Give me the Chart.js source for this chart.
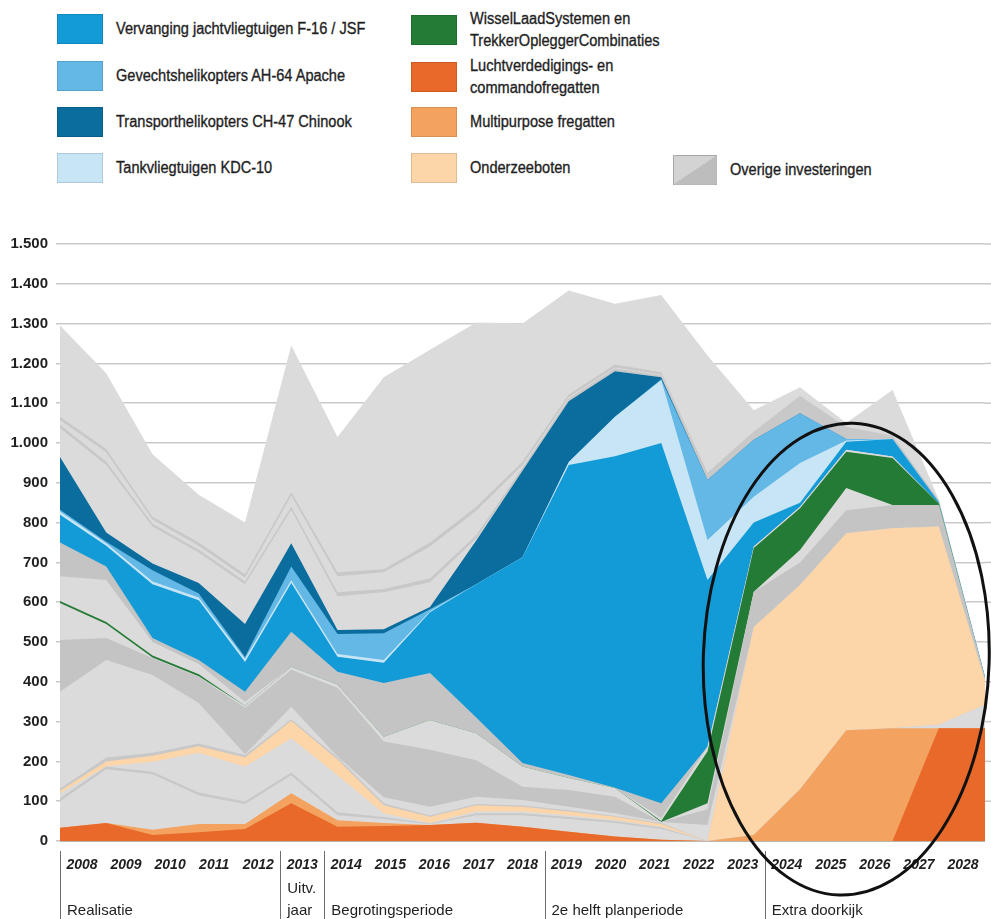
<!DOCTYPE html>
<html>
<head>
<meta charset="utf-8">
<script src="https://cdn.jsdelivr.net/npm/chart.js@4.4.0/dist/chart.umd.min.js"></script>
<style>
  html, body { margin: 0; padding: 0; background: #fff; }
  body {
    width: 991px; height: 919px; position: relative; overflow: hidden;
    font-family: "Liberation Sans", Arial, sans-serif;
    color: #1f1f1f;
  }
  #chart { position: absolute; left: 0; top: 0; }
  .lg { position: absolute; display: flex; align-items: center; font-size: 16px; line-height: 22px; }
  .lg span { display: inline-block; transform: scaleX(0.91); transform-origin: left center; white-space: nowrap; -webkit-text-stroke: 0.35px #1f1f1f; }
  .sw { width: 46px; height: 30px; box-sizing: border-box; border: 1px solid rgba(0,0,0,0.12); margin-right: 13px; flex: none; }
</style>
</head>
<body>
<div class="lg" style="left:57px;top:14px"><div class="sw" style="background:#139bd7"></div><span>Vervanging jachtvliegtuigen F-16 / JSF</span></div>
<div class="lg" style="left:57px;top:61px"><div class="sw" style="background:#64b8e6"></div><span>Gevechtshelikopters AH-64 Apache</span></div>
<div class="lg" style="left:57px;top:107px"><div class="sw" style="background:#0a6d9e"></div><span>Transporthelikopters CH-47 Chinook</span></div>
<div class="lg" style="left:57px;top:153px"><div class="sw" style="background:#c8e5f6"></div><span>Tankvliegtuigen KDC-10</span></div>
<div class="lg" style="left:411px;top:8px"><div class="sw" style="background:#237b35"></div><span>WisselLaadSystemen en<br>TrekkerOpleggerCombinaties</span></div>
<div class="lg" style="left:411px;top:55px"><div class="sw" style="background:#e8692a"></div><span>Luchtverdedigings- en<br>commandofregatten</span></div>
<div class="lg" style="left:411px;top:107px"><div class="sw" style="background:#f3a35f"></div><span>Multipurpose fregatten</span></div>
<div class="lg" style="left:411px;top:153px"><div class="sw" style="background:#fcd5a8"></div><span>Onderzeeboten</span></div>
<div class="lg" style="left:673px;top:155px"><div class="sw" style="background:linear-gradient(to bottom right,#d3d3d3 50%,#bdbdbd 50%);width:44px"></div><span>Overige investeringen</span></div>

<canvas id="chart" width="991" height="919"></canvas>

<script>
// years on the axis
const years = ['2008','2009','2010','2011','2012','2013','2014','2015','2016','2017','2018',
               '2019','2020','2021','2022','2023','2024','2025','2026','2027','2028'];

// series values (mln euro), bottom layer first
const lucht    = [33,45,15,22,30,95,36,38,40,46,36,23,11,3,0,0,0,0,0,283,283];
const multi    = [0,0,13,21,13,25,16,7,0,0,0,0,0,0,0,15,130,278,283,0,0];
const overig1  = [67,135,140,72,50,45,13,10,2,19,29,32,34,27,0,0,0,0,0,9,59];
const overig2  = [8,7,6,7,6,7,7,5,2,5,5,5,5,4,0,0,0,0,0,0,0];
const overig3  = [12,1,25,100,88,86,93,10,1,5,4,5,3,2,0,0,0,0,0,0,0];
const onderzee = [6,12,15,16,23,44,40,20,16,15,12,9,8,7,0,523,513,495,503,498,60];
const overig4  = [6,10,8,7,6,4,5,5,3,3,3,3,2,2,0,0,0,0,0,0,0];
const overig5  = [243,245,195,102,2,31,2,15,22,18,14,9,7,3,40,0,0,0,0,0,0];
const overig6  = [130,55,43,66,117,93,173,140,143,92,33,42,41,0,40,88,57,58,58,54,6];
const overig7  = [93,35,1,1,5,8,8,12,75,68,51,30,22,0,15,0,31,56,0,0,0];
const wls      = [5,5,5,5,0,0,0,0,0,0,0,0,0,2,130,110,105,91,118,4,0];
const overig8  = [62,106,34,26,10,0,0,0,0,0,0,0,0,8,12,4,4,5,4,0,0];
const overig9  = [85,34,10,10,25,88,32,135,118,39,9,8,1,37,0,0,0,0,0,0,0];
const f16      = [70,52,135,150,75,122,38,51,153,335,517,779,833,905,419,60,10,20,44,3,3];
const kdc10    = [8,6,7,7,8,7,7,7,2,0,0,7,99,158,100,65,100,3,0,0,0];
const apache   = [4,4,28,10,4,35,50,67,5,0,0,0,0,2,151,143,125,4,0,0,0];
const chinook  = [133,23,17,26,83,58,10,10,6,110,217,153,114,5,0,0,0,0,0,0,0];
const overig10 = [73,170,93,77,100,84,85,93,62,5,0,0,0,0,0,0,0,0,0,0,0];
const overig11 = [8,8,7,7,7,8,10,8,10,8,8,7,7,5,18,20,43,30,8,5,2];
const overig12 = [12,24,11,10,10,28,40,42,80,62,7,3,3,2,0,0,0,0,0,0,0];
const overig13 = [8,8,7,8,8,8,10,8,10,10,8,7,7,6,0,0,0,0,0,0,0];
const overig14 = [229,190,157,120,130,369,340,482,484,463,347,261,153,194,295,54,22,10,115,2,1];

const periods = [
  { start: 0,  lines: ['Realisatie'] },
  { start: 5,  lines: ['Uitv.', 'jaar'] },
  { start: 6,  lines: ['Begrotingsperiode'] },
  { start: 11, lines: ['2e helft planperiode'] },
  { start: 16, lines: ['Extra doorkijk'] }
];

const LIGHT = '#dcdbdb';
const MID = '#c5c4c4';
const LINE = '#c9c8c8';
const GRID = '#c9c9c9';
const FONT = '"Liberation Sans", Arial, sans-serif';

function layer(data, color) {
  return {
    data: data,
    backgroundColor: color,
    borderColor: 'transparent',
    borderWidth: 0,
    pointRadius: 0,
    pointHoverRadius: 0,
    tension: 0,
    fill: 'origin'
  };
}

// every layer fills down to zero; lower layers are painted over higher ones
const datasets = [
  layer(lucht, '#e8692a'),
  layer(multi, '#f3a35f'),
  layer(overig1, LIGHT),
  layer(overig2, LINE),
  layer(overig3, LIGHT),
  layer(onderzee, '#fcd5a8'),
  layer(overig4, LINE),
  layer(overig5, LIGHT),
  layer(overig6, MID),
  layer(overig7, LIGHT),
  layer(wls, '#237b35'),
  layer(overig8, LIGHT),
  layer(overig9, MID),
  layer(f16, '#139bd7'),
  layer(kdc10, '#c8e5f6'),
  layer(apache, '#64b8e6'),
  layer(chinook, '#0a6d9e'),
  layer(overig10, LIGHT),
  layer(overig11, LINE),
  layer(overig12, LIGHT),
  layer(overig13, LINE),
  layer(overig14, LIGHT)
];

function fmt(v) {
  if (v >= 1000) return Math.floor(v / 1000) + '.' + String(v % 1000).padStart(3, '0');
  return String(v);
}

// period separators, labels and the ellipse
const extras = {
  id: 'extras',
  beforeDatasetsDraw(chart) {
    // grid lines run on to the right edge of the page
    const ctx = chart.ctx;
    const y = chart.scales.y;
    ctx.save();
    ctx.strokeStyle = GRID;
    ctx.lineWidth = 1.5;
    y.ticks.forEach(t => {
      if (t.value === 0) return;
      const py = y.getPixelForValue(t.value);
      ctx.beginPath();
      ctx.moveTo(chart.chartArea.right, py);
      ctx.lineTo(chart.width, py);
      ctx.stroke();
    });
    ctx.restore();
  },
  afterDraw(chart) {
    const ctx = chart.ctx;
    const xl = chart.scales.x2;
    const xd = chart.scales.x;
    const y = chart.scales.y;
    ctx.save();
    ctx.strokeStyle = '#6d6d6d';
    ctx.lineWidth = 1;
    ctx.fillStyle = '#1f1f1f';
    ctx.font = '15px ' + FONT;
    ctx.textBaseline = 'alphabetic';
    periods.forEach(p => {
      const sx = p.start === 0 ? xl.left
        : (xl.getPixelForTick(p.start - 1) + xl.getPixelForTick(p.start)) / 2;
      ctx.beginPath();
      ctx.moveTo(Math.round(sx) + 0.5, 851);
      ctx.lineTo(Math.round(sx) + 0.5, 919);
      ctx.stroke();
      p.lines.forEach((t, i) => {
        ctx.fillText(t, sx + 7, 915 - (p.lines.length - 1 - i) * 22);
      });
    });
    // black ellipse round the last years
    const cx = xd.getPixelForValue(17);
    const step = xd.getPixelForValue(1) - xd.getPixelForValue(0);
    const cy = y.getPixelForValue(457);
    const ry = y.getPixelForValue(0) - y.getPixelForValue(593);
    ctx.strokeStyle = '#111';
    ctx.lineWidth = 3;
    ctx.beginPath();
    ctx.ellipse(cx, cy, step * 3.09, ry, 0.03, 0, Math.PI * 2);
    ctx.stroke();
    ctx.restore();
  }
};

new Chart(document.getElementById('chart'), {
  type: 'line',
  data: { labels: years, datasets: datasets },
  options: {
    responsive: false,
    animation: false,
    events: [],
    layout: { padding: { left: 0, right: 6, top: 244, bottom: 48 } },
    scales: {
      x: {
        type: 'category',
        display: false,
        offset: false
      },
      x2: {
        type: 'category',
        labels: years,
        position: 'bottom',
        offset: true,
        grid: { display: false },
        border: { display: false },
        ticks: {
          autoSkip: false,
          maxRotation: 0,
          padding: 8,
          color: '#1f1f1f',
          font: { family: FONT, size: 14, style: 'italic', weight: 'bold' }
        },
        afterFit(scale) { scale.height = 30; }
      },
      y: {
        stacked: true,
        min: 0,
        max: 1500,
        border: { display: false },
        grid: {
          color: c => c.tick && c.tick.value === 0 ? '#7a6e68' : GRID,
          lineWidth: 1.5,
          tickLength: 4,
          tickColor: GRID
        },
        ticks: {
          stepSize: 100,
          padding: 8,
          color: '#1f1f1f',
          font: { family: FONT, size: 15, weight: 'bold' },
          callback: v => fmt(v)
        },
        afterFit(scale) { scale.width = 60; }
      }
    },
    plugins: {
      legend: { display: false },
      tooltip: { enabled: false }
    }
  },
  plugins: [extras]
});
</script>
</body>
</html>
